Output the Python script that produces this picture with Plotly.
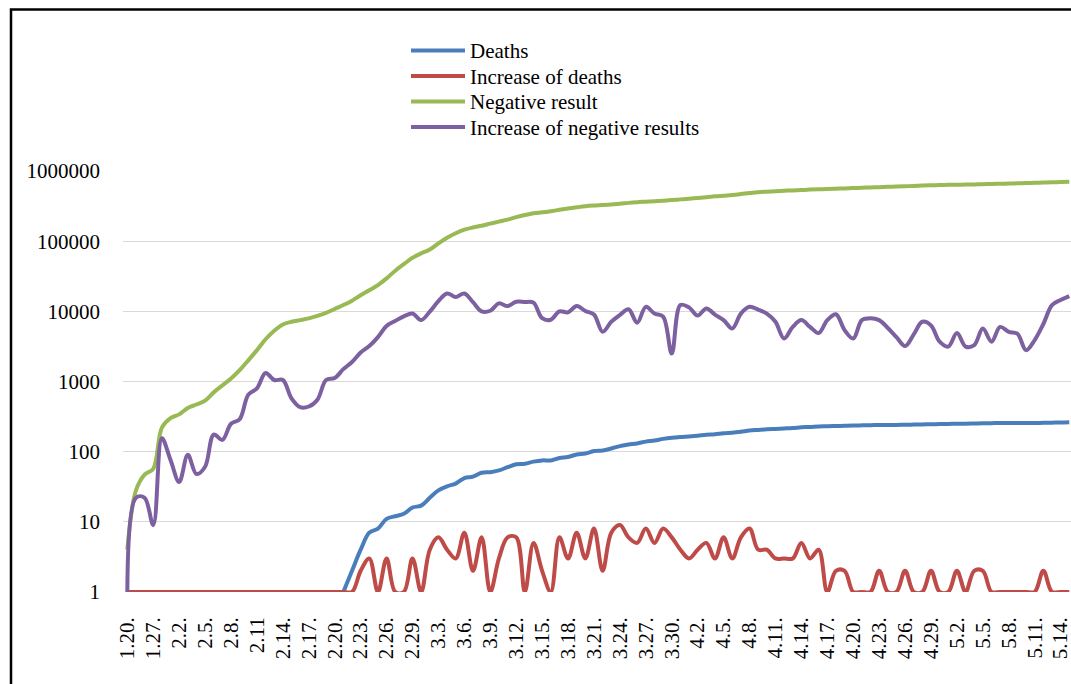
import plotly.graph_objects as go

# Category labels (dates, M.D.)
dates = [
    "1.20.", "1.24.", "1.26.", "1.27.", "1.29.", "1.31.",
    "2.2.", "2.3.", "2.4.", "2.5.", "2.6.", "2.7.", "2.8.", "2.9.", "2.10.", "2.11",
    "2.12.", "2.13.", "2.14.", "2.15.", "2.16.", "2.17.", "2.18.", "2.19.", "2.20.",
    "2.21.", "2.22.", "2.23.", "2.24.", "2.25.", "2.26.", "2.27.", "2.28.", "2.29.",
    "3.1.", "3.2.", "3.3.", "3.4.", "3.5.", "3.6.", "3.7.", "3.8.", "3.9.", "3.10.",
    "3.11.", "3.12.", "3.13.", "3.14.", "3.15.", "3.16.", "3.17.", "3.18.", "3.19.",
    "3.20.", "3.21.", "3.22.", "3.23.", "3.24.", "3.25.", "3.26.", "3.27.", "3.28.",
    "3.29.", "3.30.", "3.31.",
    "4.1.", "4.2.", "4.3.", "4.4.", "4.5.", "4.6.", "4.7.", "4.8.", "4.9.", "4.10.",
    "4.11.", "4.12.", "4.13.", "4.14.", "4.15.", "4.16.", "4.17.", "4.18.", "4.19.",
    "4.20.", "4.21.", "4.22.", "4.23.", "4.24.", "4.25.", "4.26.", "4.27.", "4.28.",
    "4.29.", "4.30.",
    "5.1.", "5.2.", "5.3.", "5.4.", "5.5.", "5.6.", "5.7.", "5.8.", "5.9.", "5.10.",
    "5.11.", "5.12.", "5.13.", "5.14.", "5.15.",
]

# Labels shown on the axis (every third category)
shown_labels = [
    "1.20.", "1.27.", "2.2.", "2.5.", "2.8.", "2.11", "2.14.", "2.17.", "2.20.",
    "2.23.", "2.26.", "2.29.", "3.3.", "3.6.", "3.9.", "3.12.", "3.15.", "3.18.",
    "3.21.", "3.24.", "3.27.", "3.30.", "4.2.", "4.5.", "4.8.", "4.11.", "4.14.",
    "4.17.", "4.20.", "4.23.", "4.26.", "4.29.", "5.2.", "5.5.", "5.8.", "5.11.", "5.14.",
]

deaths = [None] * 25 + [
    1, 2, 4, 7, 8, 11, 12, 13, 16, 17, 22, 28, 32, 35, 42, 44, 50, 51, 54, 60,
    66, 67, 72, 75, 75, 81, 84, 91, 94, 102, 104, 111, 120, 126, 131, 139, 144, 152, 158, 162,
    165, 169, 174, 177, 183, 186, 192, 200, 204, 208, 211, 214, 217, 222, 225, 229, 230, 232, 234, 236,
    237, 238, 240, 240, 240, 242, 243, 244, 246, 247, 248, 250, 250, 252, 254, 255, 256, 256, 256, 256,
    256, 258, 259, 260, 262,
]

increase_deaths = [1] * 27 + [
    2, 3, 1, 3, 1, 1, 3, 1, 4, 6, 4, 3, 7, 2, 6, 1, 3, 6, 6, 1,
    5, 2, 1, 6, 3, 7, 3, 8, 2, 7, 9, 6, 5, 8, 5, 8, 6, 4, 3, 4,
    5, 3, 6, 3, 6, 8, 4, 4, 3, 3, 3, 5, 3, 4, 1, 2, 2, 1, 1, 1,
    2, 1, 1, 2, 1, 1, 2, 1, 1, 2, 1, 2, 2, 1, 1, 1, 1, 1, 1, 2,
    1, 1, 1,
]

negative = [
    4, 28, 47, 57, 220, 300, 340, 420, 470, 535,
    700, 880, 1100, 1450, 2000, 2800, 4000, 5300, 6500, 7100,
    7500, 7950, 8600, 9500, 10800, 12300, 14200, 17000, 20000, 23700,
    29500, 38000, 47000, 58000, 67000, 76000, 93000, 112000, 130000, 146000,
    157000, 166000, 178000, 190000, 203000, 220000, 236000, 250000, 258000, 268000,
    280000, 292000, 304000, 315000, 322000, 327000, 334000, 341000, 352000, 360000,
    366000, 372000, 379000, 386000, 395000, 404000, 414000, 424000, 436000, 446000,
    456000, 470000, 486000, 500000, 508000, 516000, 523000, 530000, 537000, 544000,
    550000, 556000, 561000, 566000, 572000, 578000, 584000, 590000, 596000, 602000,
    608000, 614000, 622000, 628000, 632000, 636000, 639000, 642000, 646000, 650000,
    654000, 659000, 664000, 669000, 674000, 679000, 685000, 691000, 698000, 705000,
]

increase_negative = [
    1, 22, 22, 9, 155, 76, 37, 90, 48, 61,
    175, 147, 250, 290, 650, 800, 1320, 1050, 1050, 575,
    430, 440, 550, 1050, 1120, 1500, 1900, 2600, 3200, 4300,
    6200, 7300, 8500, 9300, 7500, 9900, 14000, 18000, 16000, 18000,
    13500, 10000, 10200, 13000, 11900, 13700, 13600, 13300, 8000, 7600,
    10000, 9700, 11900, 10100, 9000, 5100, 7100, 8900, 10700, 6900,
    11600, 9300, 8400, 2500, 12300, 11400, 8700, 11000, 9000, 7500,
    5700, 9300, 11600, 10600, 9300, 7100, 4100, 6000, 7500, 6000,
    4900, 7500, 9100, 5400, 4100, 7500, 8000, 7500, 5800, 4300,
    3200, 4700, 7100, 6300, 3700, 3150, 4900, 3150, 3300, 5700,
    3700, 6000, 5100, 4800, 2800, 3900, 6600, 12300, 14500, 16500,
]

y_ticks = [1, 10, 100, 1000, 10000, 100000, 1000000]
y_ticktext = ["1", "10", "100", "1000", "10000", "100000", "1000000"]

series_names = ["Deaths", "Increase of deaths", "Negative result", "Increase of negative results"]
series_values = [deaths, increase_deaths, negative, increase_negative]
series_colors = ["#4A7EBB", "#BE4B48", "#98B954", "#7D60A0"]

FONT = "Liberation Serif, Times New Roman, serif"

W, H = 1071, 684
L, R, T = 123, 0, 171
PLOT_BOTTOM = 592
B = H - PLOT_BOTTOM
plot_w = W - L - R
plot_h = PLOT_BOTTOM - T


def fx(px):
    """pixel x -> paper x"""
    return (px - L) / plot_w


def fy(py):
    """pixel y -> paper y"""
    return (PLOT_BOTTOM - py) / plot_h


fig = go.Figure()
for name, vals, color in zip(series_names, series_values, series_colors):
    fig.add_trace(go.Scatter(
        x=dates, y=vals, name=name, mode="lines",
        line=dict(color=color, width=4, shape="spline", smoothing=1),
        connectgaps=False, showlegend=False, hoverinfo="skip",
    ))

# Legend drawn as line samples + text, matching the original's geometry
legend_y = [50.5, 76, 101.5, 127]
shapes = []
annotations = []
for name, color, ly in zip(series_names, series_colors, legend_y):
    shapes.append(dict(type="line", xref="paper", yref="paper",
                       x0=fx(411), x1=fx(465), y0=fy(ly), y1=fy(ly),
                       line=dict(color=color, width=3.8)))
    annotations.append(dict(xref="paper", yref="paper", x=fx(468), y=fy(ly + 0.5),
                            xanchor="left", yanchor="middle", showarrow=False,
                            text=name, font=dict(family=FONT, size=21, color="black")))

# Outer chart border (left and top edges visible)
shapes.append(dict(type="rect", xref="paper", yref="paper",
                   x0=fx(11), x1=fx(1300), y0=fy(900), y1=fy(9.5),
                   line=dict(color="black", width=2.5), fillcolor="rgba(0,0,0,0)",
                   layer="above"))

fig.update_layout(
    width=W, height=H,
    margin=dict(l=L, r=R, t=T, b=B, pad=0),
    paper_bgcolor="white", plot_bgcolor="white",
    font=dict(family=FONT, size=21, color="black"),
    showlegend=False,
    hovermode=False,
    xaxis=dict(
        type="category", categoryorder="array", categoryarray=dates,
        range=[-0.5, 109.2],
        tickmode="array", tickvals=shown_labels, ticktext=shown_labels,
        tickangle=-90, showgrid=False, zeroline=False,
        showline=False, ticks="", ticklabelstandoff=20,
        tickfont=dict(family=FONT, size=21, color="black"),
        automargin=False,
    ),
    yaxis=dict(
        type="log", range=[-0.001, 6.001],
        tickmode="array", tickvals=y_ticks, ticktext=y_ticktext,
        showgrid=True, gridcolor="#D9D9D9", gridwidth=1.3,
        zeroline=False, showline=False, ticks="", ticklabelstandoff=22,
        tickfont=dict(family=FONT, size=21, color="black"),
        automargin=False,
    ),
    shapes=shapes,
    annotations=annotations,
)

# Remove the default page margin so the figure fills the window exactly
fig.write_html(
    "out.html",
    config={"displayModeBar": False, "staticPlot": True},
    post_script="document.body.style.margin='0px';document.body.style.overflow='hidden';",
)
